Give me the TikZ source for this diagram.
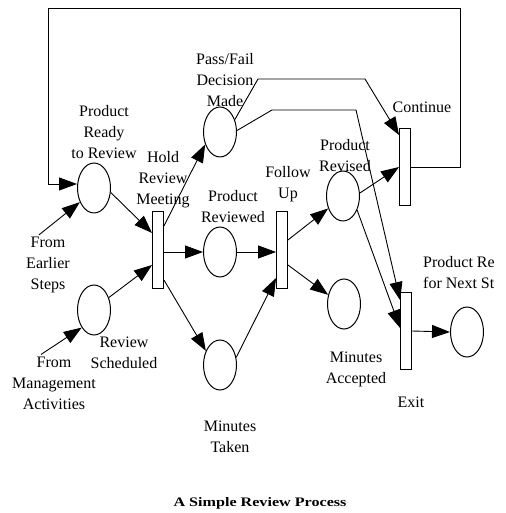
\documentclass[tikz,border=0pt]{standalone}
\usepackage{fontspec}
\setmainfont{Liberation Serif}
\usetikzlibrary{shapes.geometric}
\usetikzlibrary{arrows.meta}

\tikzset{
  place/.style={draw, ellipse, line width=1pt, minimum width=33pt, minimum height=50pt, inner sep=0pt},
  trans/.style={draw, rectangle, line width=0.9pt, minimum width=11pt, minimum height=77pt, inner sep=0pt},
  lbl/.style={align=center, inner sep=2pt, font=\fontsize{16}{21}\selectfont},
  arr/.style={-{Triangle[length=18pt,width=13pt]}, line width=0.9pt},
}

\begin{document}
\begin{tikzpicture}[x=10pt,y=10pt]
        \useasboundingbox (0,0) rectangle (50.5,51.3);

        % places
        \node[place] (p1) at (9.4,32.5) {};
        \node[place] (p2) at (22.0,38.1) {};
        \node[place] (p3) at (22.0,26.1) {};
        \node[place] (p4) at (9.4,20.3) {};
        \node[place] (p5) at (22.0,14.8) {};
        \node[place] (p6) at (34.3,31.7) {};
        \node[place] (p7) at (34.4,20.9) {};
        \node[place] (p8) at (46.7,18.1) {};

        % transitions
        \node[trans] (t1) at (15.8,26.3) {};
        \node[trans] (t2) at (28.2,26.3) {};
        \node[trans] (t3) at (40.5,34.6) {};
        \node[trans] (t4) at (40.6,18.2) {};

        % labels
        \node[lbl] (ready) at (10.4,38.1) {Product\\Ready\\to Review};
        \node[lbl] (decision) at (22.5,43.3) {Pass/Fail\\Decision\\Made};
        \node[lbl] (hold) at (16.3,33.3) {Hold\\Review\\Meeting};
        \node[lbl] (reviewed) at (23.3,30.6) {Product\\Reviewed};
        \node[lbl] (follow) at (28.8,32.9) {Follow\\Up};
        \node[lbl] (revised) at (34.5,35.7) {Product\\Revised};
        \node[lbl] (continue) at (42.2,40.6) {Continue};
        \node[lbl] (scheduled) at (12.4,16.0) {Review\\Scheduled};
        \node[lbl] (taken) at (23.0,7.6) {Minutes\\Taken};
        \node[lbl] (accepted) at (35.6,14.4) {Minutes\\Accepted};
        \node[lbl] (exit) at (41.1,11.1) {Exit};
        \node[lbl, anchor=west, align=left] (next) at (42.1,24.0) {Product Re\\for Next St};
        \node[lbl] (earlier) at (4.8,24.8) {From\\Earlier\\Steps};
        \node[lbl] (mgmt) at (5.4,13.0) {From\\Management\\Activities};
        \node[font=\bfseries\fontsize{13}{15}\selectfont] (title) at (26.0,1.0) {\scalebox{1.24}[1]{A Simple Review Process}};

        % inputs
        \draw[arr] ([xshift=-9pt]earlier.north) -- (p1.225);
        \draw[arr] ([xshift=-13pt]mgmt.north) -- (p4.235);

        % hold review meeting
        \draw[arr] (p1.-15) -- ([yshift=17pt]t1.west);
        \draw[arr] (p4.40) -- ([yshift=-15pt]t1.west);
        \draw[arr] ([yshift=24pt]t1.east) -- (p2.220);
        \draw[arr] (t1.east |- p3) -- (p3.west);
        \draw[arr] ([yshift=-30pt]t1.east) -- (p5.135);

        % follow up
        \draw[arr] (p3.east) -- (t2.west |- p3);
        \draw[arr] (p5.25) -- ([yshift=-28pt]t2.west);
        \draw[arr] ([yshift=10pt]t2.east) -- (p6.220);
        \draw[arr] ([yshift=-15pt]t2.east) -- (p7.150);

        % continue / exit
        \draw[arr] (p6.10) -- (t3.west);
        \draw[arr] (p2.40) -- (25.8,43.4) -- (36.5,43.4) -- ([yshift=-7pt]t3.north west);
        \draw[arr] (p2.5) -- (27.2,40.3) -- (35.6,40.3) -- ([yshift=-8pt]t4.north west);
        \draw[arr] (p6.-45) -- ([yshift=3pt]t4.west);
        \draw[arr] (t4.east) -- (p8.west);

        % loop back
        \draw[arr] (t3.east) -- ++(4.9,0) |- (4.8,50.5) |- ([yshift=4pt]p1.west);

\end{tikzpicture}
\end{document}
